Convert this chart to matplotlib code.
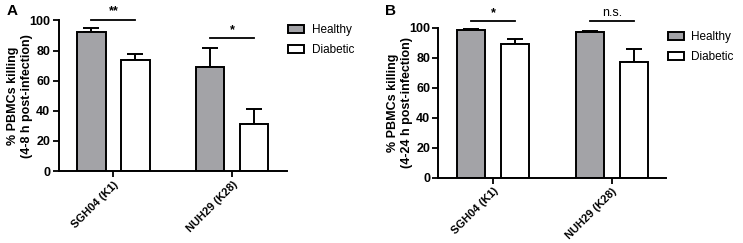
import numpy as np
import matplotlib.pyplot as plt

plt.rcParams['font.family'] = ['Liberation Sans', 'DejaVu Sans']

strains = ['SGH04 (K1)', 'NUH29 (K28)']
groups = ['Healthy', 'Diabetic']

# panel A: 4-8 h
a_healthy = [92, 69]
a_healthy_err = [3, 13]
a_diabetic = [73.5, 31]
a_diabetic_err = [4.5, 10.5]
a_sig = ['**', '*']
a_sig_y = [100.5, 88]

# panel B: 4-24 h
b_healthy = [98.5, 97]
b_healthy_err = [0.7, 1]
b_diabetic = [89, 77]
b_diabetic_err = [3.5, 9]
b_sig = ['*', 'n.s.']
b_sig_y = [104.5, 104.5]

gray = '#a3a3a7'
w = 0.24
off = 0.185


def panel(ax, healthy, herr, diabetic, derr, sig, sig_y, ylabel):
    x = np.arange(len(strains))
    ax.bar(x - off, healthy, w, color=gray, edgecolor='black', linewidth=1.4,
           label=groups[0], zorder=2)
    ax.bar(x + off, diabetic, w, color='white', edgecolor='black', linewidth=1.4,
           label=groups[1], zorder=2)
    ax.errorbar(x - off, healthy, yerr=[np.zeros(len(x)), herr], fmt='none',
                ecolor='black', elinewidth=1.4, capsize=5.5, capthick=1.4, zorder=1)
    ax.errorbar(x + off, diabetic, yerr=[np.zeros(len(x)), derr], fmt='none',
                ecolor='black', elinewidth=1.4, capsize=5.5, capthick=1.4, zorder=1)
    for xi, s, y in zip(x, sig, sig_y):
        ax.plot([xi - off, xi + off], [y, y], color='black', lw=1.3, clip_on=False)
        ax.text(xi, y + 1.5, s, ha='center', va='bottom', fontsize=9,
                fontweight='bold' if s != 'n.s.' else 'normal')
    ax.set_xlim(-0.46, 1.46)
    ax.set_ylim(0, 100)
    ax.set_yticks([0, 20, 40, 60, 80, 100])
    ax.set_xticks(x)
    ax.set_xticklabels(strains, rotation=45, ha='right', rotation_mode='anchor',
                       fontsize=8, fontweight='bold')
    for lab in ax.get_yticklabels():
        lab.set_fontweight('bold')
        lab.set_fontsize(9)
    ax.tick_params(width=1.3, length=4.5, pad=1.5)
    ax.spines[['top', 'right']].set_visible(False)
    ax.spines[['left', 'bottom']].set_linewidth(1.4)
    ax.set_ylabel(ylabel, fontsize=9, fontweight='bold', linespacing=1.2)
    ax.yaxis.set_label_coords(-0.112, 0.5)
    ax.legend(loc='upper left', bbox_to_anchor=(1.005, 0.975), frameon=False,
              fontsize=8.5, handlelength=1.4, handleheight=0.65,
              handletextpad=0.6, labelspacing=0.65, borderpad=0,
              borderaxespad=0)


fig = plt.figure(figsize=(7.43, 2.43), dpi=100)
ax1 = fig.add_axes([0.079, 0.296, 0.307, 0.620])
ax2 = fig.add_axes([0.590, 0.269, 0.307, 0.617])
panel(ax1, a_healthy, a_healthy_err, a_diabetic, a_diabetic_err, a_sig, a_sig_y,
      '% PBMCs killing\n(4-8 h post-infection)')
panel(ax2, b_healthy, b_healthy_err, b_diabetic, b_diabetic_err, b_sig, b_sig_y,
      '% PBMCs killing\n(4-24 h post-infection)')
fig.text(0.009, 0.985, 'A', fontsize=11, fontweight='bold', va='top')
fig.text(0.518, 0.985, 'B', fontsize=11, fontweight='bold', va='top')

fig.savefig('out.png', dpi=100)
